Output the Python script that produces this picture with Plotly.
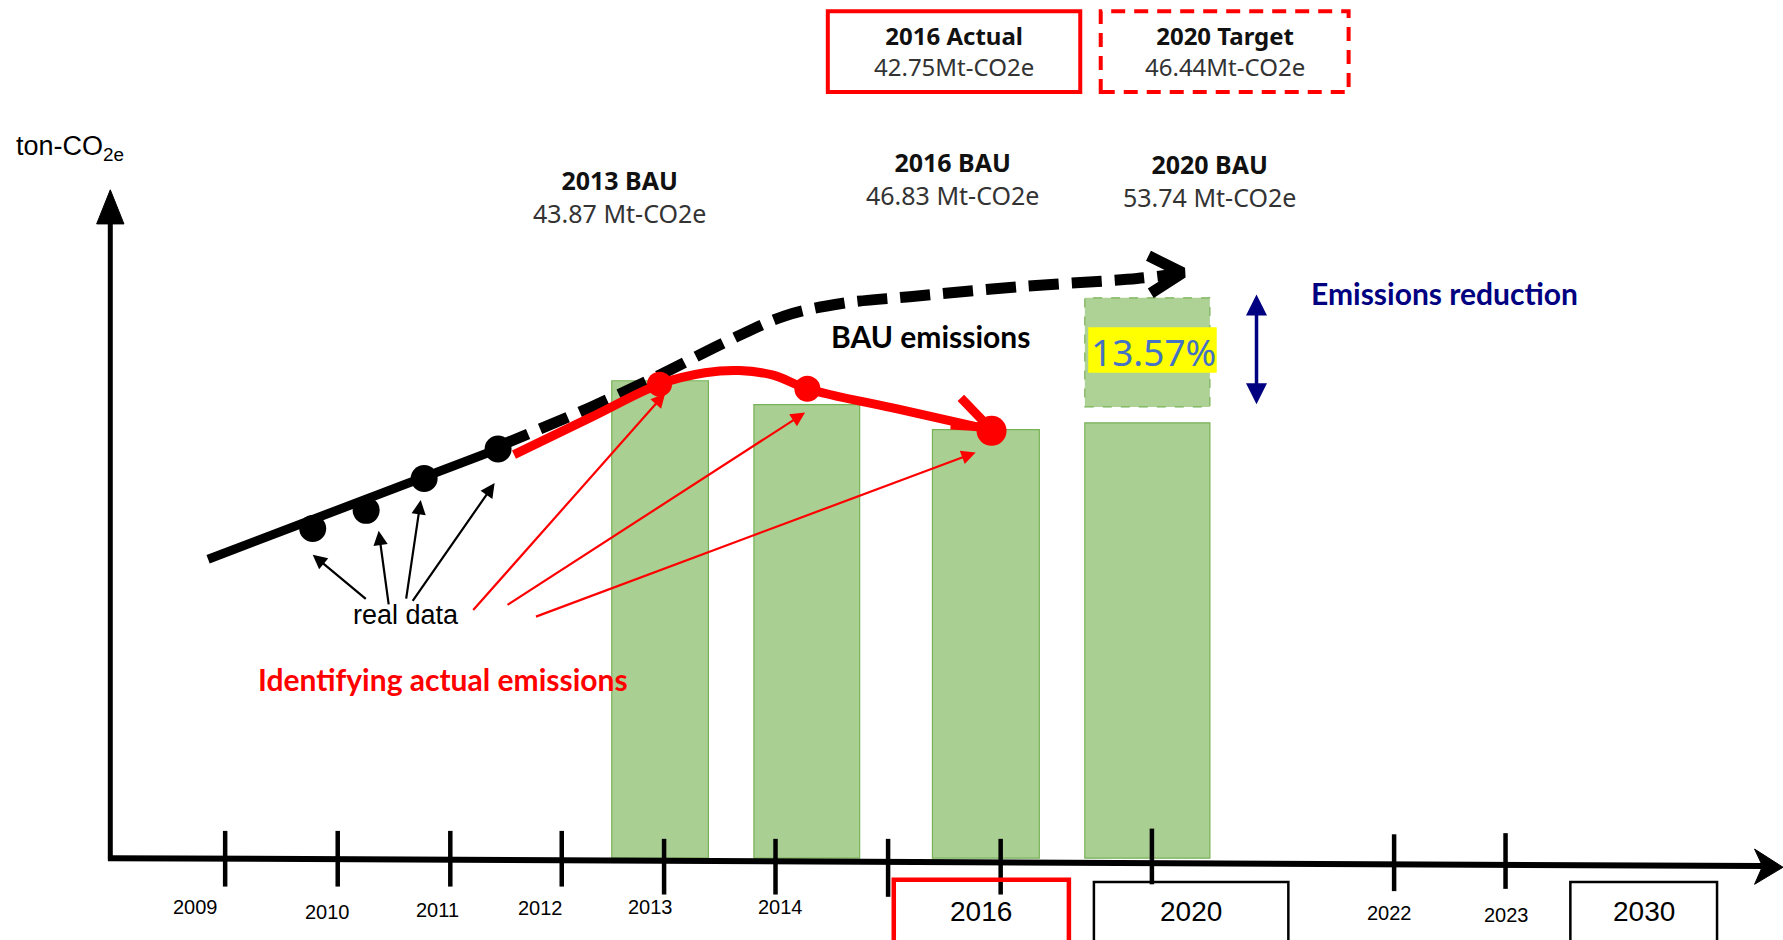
import plotly.graph_objects as go

# ---------------- data (diagram units: x = position, y = level above baseline) ----------------
tick_x = [198, 297, 396, 494, 584, 682, 781, 880, 1013, 1226, 1324]
tick_top = [24, 24, 24, 24, 17, 17, 17, 17, 26, 21, 22]
tick_bot = [-25, -25, -25, -25, -32, -32, -34, -32, -23, -29, -27]

small_labels = ["2009", "2010", "2011", "2012", "2013", "2014", "2022", "2023"]
small_label_x = [172, 288, 385, 475, 572, 686, 1222, 1325]
small_label_y = [-43, -47, -46, -44, -43, -43, -48, -50]

box_years = ["2016", "2020", "2030"]
box_x0 = [786, 962, 1381]
box_x1 = [940, 1133, 1510]
box_y0 = [-19, -21, -21]
box_colors = ["#ff0000", "#000000", "#000000"]

bar_x = [580.5, 709.5, 867, 1009]
bar_w = [85, 93, 94, 110]
bar_top = [420, 399, 377, 383]

reduction_x = [954, 1064]
reduction_y = [397, 493]

real_x = [183, 438]
real_y = [263, 360]
real_dot_x = [275, 322, 373, 438]
real_dot_y = [290, 306, 334, 360]

bau_x = [440, 520, 580, 640, 690, 740, 800, 900, 1000, 1035]
bau_y = [363, 397, 425, 455, 477, 488, 494, 503, 510, 514]
bau_head_x = [1010, 1040, 1012]
bau_head_y = [530, 515, 497]

act_x = [452, 520, 580, 620, 650, 680, 710, 790, 870]
act_y = [355, 388, 417, 427, 429, 425, 413, 395, 377]
act_dot_x = [580, 710, 872]
act_dot_y = [417, 413, 376]
act_dot_size = [25, 26, 30]
act_head_x = [845, 870, 836]
act_head_y = [405, 379, 381]

black_arrow_tail = [(323, 227), (342, 222), (357, 227), (362, 225)]
black_arrow_head = [(275, 267), (333, 288), (370, 315), (435, 330)]
red_arrow_tail = [(415, 217), (445, 222), (470, 212)]
red_arrow_head = [(585, 409), (708, 392), (858, 357)]

bau_labels = [("2013 BAU", "43.87 Mt-CO2e"), ("2016 BAU", "46.83 Mt-CO2e"), ("2020 BAU", "53.74 Mt-CO2e")]
bau_label_x = [545, 838, 1064]
bau_label_y = [582, 598, 596]

top_labels = [("2016 Actual", "42.75Mt-CO2e"), ("2020 Target", "46.44Mt-CO2e")]
top_box_x0 = [728, 968]
top_box_x1 = [950, 1186]
top_box_y = [674, 745]
top_box_dash = ["solid", "14px,9px"]

reduction_pct = "13.57%"

FONT = "Noto Sans, Lato, DejaVu Sans, sans-serif"
LATO = "Lato, Noto Sans, sans-serif"
ARIAL = "Liberation Sans, Arial, sans-serif"

fig = go.Figure()

# bars
fig.add_trace(go.Bar(x=bar_x, y=bar_top, width=bar_w,
                     marker=dict(color="#aacf93", line=dict(color="#78b257", width=1.2)),
                     hoverinfo="skip"))

# axes lines
fig.add_trace(go.Scatter(x=[97, 97], y=[-2, 570], mode="lines",
                         line=dict(color="black", width=5), hoverinfo="skip"))
fig.add_trace(go.Scatter(x=[97, 85, 109, 97], y=[588, 558, 558, 588], mode="lines", fill="toself",
                         fillcolor="black", line=dict(color="black", width=1), hoverinfo="skip"))
fig.add_trace(go.Scatter(x=[95, 1550], y=[0, -7], mode="lines",
                         line=dict(color="black", width=6), hoverinfo="skip"))
fig.add_trace(go.Scatter(x=[1568, 1543, 1550, 1543, 1568], y=[-8, 8, -7, -23, -8], mode="lines", fill="toself",
                         fillcolor="black", line=dict(color="black", width=1), hoverinfo="skip"))

# ticks
tx, ty = [], []
for x, a, b in zip(tick_x, tick_top, tick_bot):
    tx += [x, x, None]
    ty += [a, b, None]
fig.add_trace(go.Scatter(x=tx, y=ty, mode="lines", line=dict(color="black", width=4.5), hoverinfo="skip"))

# real data line + dots
fig.add_trace(go.Scatter(x=real_x, y=real_y, mode="lines", line=dict(color="black", width=9), hoverinfo="skip"))
fig.add_trace(go.Scatter(x=real_dot_x, y=real_dot_y, mode="markers",
                         marker=dict(color="black", size=27, opacity=1, line=dict(width=0)), hoverinfo="skip"))

# BAU dashed curve
fig.add_trace(go.Scatter(x=bau_x, y=bau_y, mode="lines", line=dict(color="black", width=11, dash="30px,13px", shape="spline"),
                         hoverinfo="skip"))
fig.add_trace(go.Scatter(x=bau_head_x, y=bau_head_y, mode="lines", line=dict(color="black", width=11),
                         hoverinfo="skip"))

# actual red curve
fig.add_trace(go.Scatter(x=act_x, y=act_y, mode="lines", line=dict(color="#ff0000", width=9, shape="spline"),
                         hoverinfo="skip"))
fig.add_trace(go.Scatter(x=act_head_x, y=act_head_y, mode="lines", line=dict(color="#ff0000", width=9),
                         hoverinfo="skip"))
fig.add_trace(go.Scatter(x=act_dot_x, y=act_dot_y, mode="markers",
                         marker=dict(color="#ff0000", size=act_dot_size, opacity=1, line=dict(width=0)),
                         hoverinfo="skip"))

shapes = []
# reduction box
shapes.append(dict(type="rect", xref="x", yref="y", x0=reduction_x[0], x1=reduction_x[1],
                   y0=reduction_y[0], y1=reduction_y[1], fillcolor="#aed196",
                   line=dict(color="#78b257", width=1.2, dash="dash"), layer="below"))
# yellow highlight
shapes.append(dict(type="rect", xref="x", yref="y", x0=957, x1=1070, y0=427, y1=467,
                   fillcolor="#ffff00", line=dict(width=0), layer="above"))
# year boxes
for x0, x1, y0, c in zip(box_x0, box_x1, box_y0, box_colors):
    shapes.append(dict(type="rect", xref="x", yref="y", x0=x0, x1=x1, y0=y0, y1=-90,
                       line=dict(color=c, width=4.5 if c == "#ff0000" else 2.5), layer="above"))
# top boxes
for x0, x1, d in zip(top_box_x0, top_box_x1, top_box_dash):
    shapes.append(dict(type="rect", xref="x", yref="y", x0=x0, x1=x1, y0=top_box_y[0], y1=top_box_y[1],
                       line=dict(color="#ff0000", width=4, dash=d), layer="above"))

ann = []
for lab, x, y in zip(small_labels, small_label_x, small_label_y):
    ann.append(dict(x=x, y=y, text=lab, showarrow=False, font=dict(family=ARIAL, size=20, color="black")))
for lab, x0, x1, y0 in zip(box_years, box_x0, box_x1, box_y0):
    ann.append(dict(x=(x0 + x1) / 2, y=-47, text=lab, showarrow=False,
                    font=dict(family=ARIAL, size=28, color="black")))
for (t, v), x, y in zip(bau_labels, bau_label_x, bau_label_y):
    ann.append(dict(x=x, y=y, text="<b>" + t + "</b><br><span style='color:#333'>" + v + "</span>",
                    showarrow=False, font=dict(family=FONT, size=25, color="#111")))
for (t, v), x0, x1 in zip(top_labels, top_box_x0, top_box_x1):
    xc = (x0 + x1) / 2
    ann.append(dict(x=xc, y=710, text="<b>" + t + "</b><br><span style='color:#333'>" + v + "</span>",
                    showarrow=False, font=dict(family=FONT, size=24, color="#111")))

ann.append(dict(x=12, y=625, xanchor="left", text="ton-CO<sub>2e</sub>", showarrow=False,
                font=dict(family=ARIAL, size=27, color="black")))
ann.append(dict(x=357, y=214, text="real data", showarrow=False, font=dict(family=ARIAL, size=27, color="black")))
ann.append(dict(x=390, y=158, text="<b>Identifying actual emissions</b>", showarrow=False,
                font=dict(family=LATO, size=30, color="#ff0000")))
ann.append(dict(x=818, y=459, text="<b>BAU emissions</b>", showarrow=False,
                font=dict(family=LATO, size=30, color="black")))
ann.append(dict(x=1014, y=446, text=reduction_pct, showarrow=False,
                font=dict(family=FONT, size=37, color="#4472c4")))
ann.append(dict(x=1270, y=497, text="<b>Emissions reduction</b>", showarrow=False,
                font=dict(family=LATO, size=30, color="#000080")))

for (tx_, ty_), (hx, hy) in zip(black_arrow_tail, black_arrow_head):
    ann.append(dict(x=hx, y=hy, ax=tx_, ay=ty_, axref="x", ayref="y", xref="x", yref="y", text="",
                    showarrow=True, arrowhead=2, arrowsize=1.3, arrowwidth=2.2, arrowcolor="black", standoff=0))
for (tx_, ty_), (hx, hy) in zip(red_arrow_tail, red_arrow_head):
    ann.append(dict(x=hx, y=hy, ax=tx_, ay=ty_, axref="x", ayref="y", xref="x", yref="y", text="",
                    showarrow=True, arrowhead=2, arrowsize=1.3, arrowwidth=2.2, arrowcolor="#ff0000", standoff=0))
# double arrow (emissions reduction)
ann.append(dict(x=1105, y=496, ax=1105, ay=398, axref="x", ayref="y", xref="x", yref="y", text="",
                showarrow=True, arrowhead=2, startarrowhead=2, arrowside="end+start", arrowsize=1.2,
                startarrowsize=1.2, arrowwidth=3.5, arrowcolor="#000080", standoff=0, startstandoff=0))

fig.update_layout(
    width=1783, height=940, autosize=False,
    margin=dict(l=0, r=0, t=0, b=0),
    paper_bgcolor="white", plot_bgcolor="white",
    showlegend=False,
    xaxis=dict(range=[0, 1568], visible=False, fixedrange=True),
    yaxis=dict(range=[-72, 755], visible=False, fixedrange=True),
    shapes=shapes, annotations=ann,
)

fig.write_html("out.html", config={"displayModeBar": False, "staticPlot": True},
               post_script="document.body.style.margin='0';document.body.style.overflow='hidden';")
